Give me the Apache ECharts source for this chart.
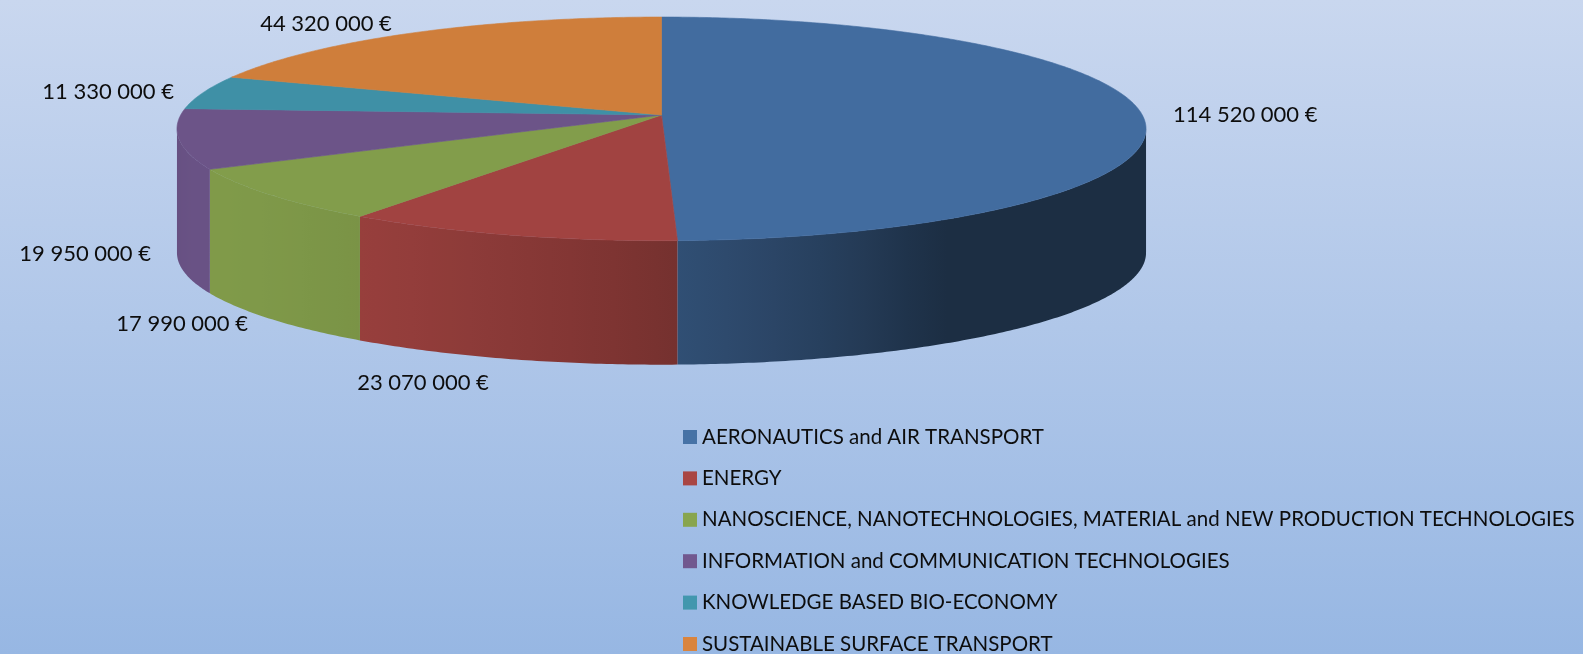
<!DOCTYPE html>
<html>
<head>
<meta charset="utf-8">
<script src="https://cdn.jsdelivr.net/npm/echarts@6/dist/echarts.min.js"></script>
<style>
  html, body { margin: 0; padding: 0; }
  #chart { width: 1583px; height: 654px; background: linear-gradient(to bottom, #c9d7ef 0%, #97b7e3 100%); }
</style>
</head>
<body>
<div id="chart"></div>
<script>
const categories = [
  'AERONAUTICS and AIR TRANSPORT',
  'ENERGY',
  'NANOSCIENCE, NANOTECHNOLOGIES, MATERIAL and NEW PRODUCTION TECHNOLOGIES',
  'INFORMATION and COMMUNICATION TECHNOLOGIES',
  'KNOWLEDGE BASED BIO-ECONOMY',
  'SUSTAINABLE SURFACE TRANSPORT'
];
const amounts = [114520000, 23070000, 17990000, 19950000, 11330000, 44320000];
const baseColors = ['#4f81bd', '#c0504d', '#9bbb59', '#8064a2', '#4bacc6', '#f79646'];

// where the value labels sit (x, y, align)
const labelAt = [
  [1173, 115, 'left'],
  [423, 383, 'center'],
  [248, 324, 'right'],
  [151, 254, 'right'],
  [174, 92, 'right'],
  [326, 24, 'center']
];

const FONT = 'Lato';
// 3d pie geometry: projected centre, radii, perspective, thickness
const CX = 661.5, CY = 115, RX = 480.8, RY = 110.1, K = 0.1239, DEPTH = 124;
const total = amounts.reduce((a, b) => a + b, 0);

function rim(t, dy) {
  const d = 1 - K * Math.sin(t);
  return [CX + RX * Math.cos(t) / d, CY + RY * Math.sin(t) / d + (dy || 0)];
}

function shade(hex, f) {
  const n = parseInt(hex.slice(1), 16);
  const c = [(n >> 16) & 255, (n >> 8) & 255, n & 255].map(v => Math.round(Math.min(255, v * f)));
  return 'rgb(' + c.join(',') + ')';
}

// light coming from the front left
function wallLight(t) {
  const l = Math.max(0, Math.cos(t - 150 * Math.PI / 180));
  return 0.42 + 0.56 * Math.pow(l, 0.8);
}

function money(v) {
  return String(v).replace(/\B(?=(\d{3})+(?!\d))/g, ' ') + ' €';
}

function renderSlice(params, api) {
  const i = params.seriesIndex;
  let before = 0;
  for (let j = 0; j < i; j++) before += amounts[j];
  const t0 = -Math.PI / 2 + 2 * Math.PI * before / total;
  const t1 = t0 + 2 * Math.PI * api.value(0) / total;
  const top = shade(baseColors[i], 0.84);
  const children = [];

  // outer wall, only the part facing us
  const lo = Math.max(t0, Math.asin(K)), hi = Math.min(t1, Math.PI - Math.asin(K));
  if (hi > lo) {
    const n = Math.max(2, Math.ceil((hi - lo) / 0.01));
    const upper = [], lower = [];
    for (let s = 0; s <= n; s++) {
      const t = lo + (hi - lo) * s / n;
      upper.push(rim(t));
      lower.unshift(rim(t, DEPTH));
    }
    const xs = upper.map(p => p[0]);
    const xmin = Math.min(...xs), xmax = Math.max(...xs);
    const stops = [];
    for (let s = 0; s <= 16; s++) {
      const t = lo + (hi - lo) * s / 16;
      stops.push({ offset: Math.min(1, Math.max(0, (rim(t)[0] - xmin) / (xmax - xmin || 1))), color: shade(baseColors[i], 0.84 * wallLight(t)) });
    }
    stops.sort((a, b) => a.offset - b.offset);
    const grad = new echarts.graphic.LinearGradient(xmin, 0, xmax, 0, stops, true);
    children.push({
      type: 'polygon',
      shape: { points: upper.concat(lower) },
      style: { fill: grad, stroke: null }
    });
  }

  // top face
  const pts = [[CX, CY]];
  const m = Math.max(2, Math.ceil((t1 - t0) / 0.01));
  for (let s = 0; s <= m; s++) pts.push(rim(t0 + (t1 - t0) * s / m));
  children.push({
    type: 'polygon',
    shape: { points: pts },
    style: { fill: top, stroke: top, lineWidth: 0.6 }
  });

  const lab = labelAt[i];
  children.push({
    type: 'text',
    x: lab[0],
    y: lab[1],
    style: {
      text: money(api.value(0)),
      fill: '#0d0d0d',
      fontFamily: FONT,
      fontSize: 22,
      align: lab[2],
      verticalAlign: 'middle'
    }
  });

  return { type: 'group', children: children };
}

const chart = echarts.init(document.getElementById('chart'));
chart.setOption({
  animation: false,
  backgroundColor: 'transparent',
  legend: {
    data: categories,
    orient: 'vertical',
    left: 678,
    top: 421,
    height: 320,
    icon: 'rect',
    itemWidth: 14,
    itemHeight: 14,
    itemGap: 19.4,
    selectedMode: false,
    textStyle: { fontFamily: FONT, fontSize: 20.5, lineHeight: 22, color: '#0d0d0d' }
  },
  series: categories.map((name, i) => ({
    type: 'custom',
    name: name,
    coordinateSystem: 'none',
    silent: true,
    itemStyle: { color: shade(baseColors[i], 0.88) },
    data: [[amounts[i]]],
    renderItem: renderSlice
  }))
});
</script>
</body>
</html>
